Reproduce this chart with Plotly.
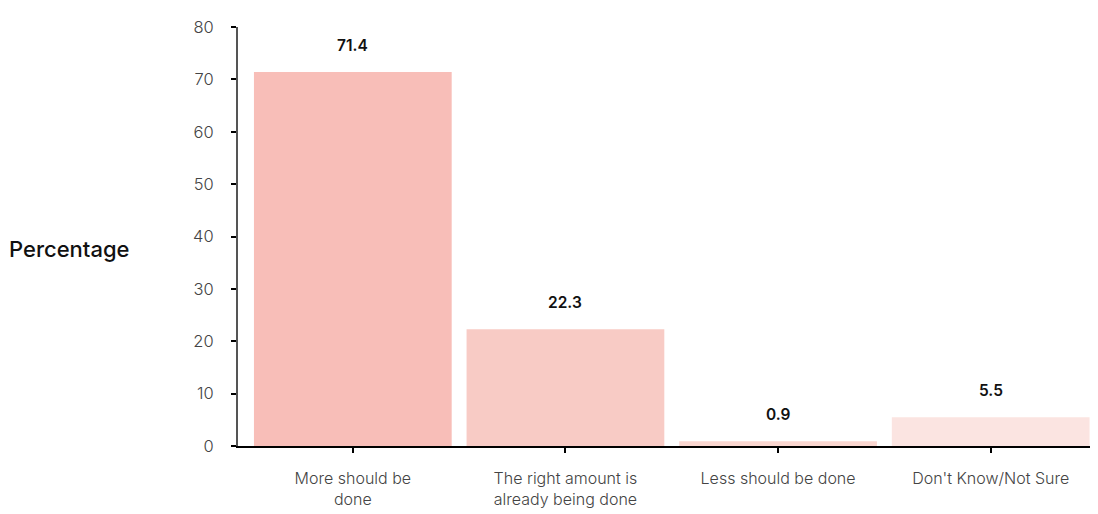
import plotly.graph_objects as go

categories = ["More should be<br>done", "The right amount is<br>already being done",
              "Less should be done", "Don't Know/Not Sure"]
values = [71.4, 22.3, 0.9, 5.5]
colors = ["#f8beb8", "#f8cbc5", "#fad6d0", "#fbe4e1"]
y_ticks = [0, 10, 20, 30, 40, 50, 60, 70, 80]

FONT = "Inter, Lato, sans-serif"

fig = go.Figure()
fig.add_trace(go.Bar(
    x=categories, y=values, marker=dict(color=colors, line=dict(width=0)),
    hoverinfo="skip", showlegend=False,
))

for c, v in zip(categories, values):
    fig.add_annotation(x=c, y=v, text=f"{v}", showarrow=False,
                       yanchor="bottom", yshift=15,
                       font=dict(family=FONT, size=15.5, color="#111111", weight=600))

fig.add_annotation(x=0, xref="paper", xanchor="left", xshift=-231,
                   y=0.47, yref="paper", text="Percentage", showarrow=False,
                   font=dict(family=FONT, size=22, color="#111111", weight=500))

fig.update_layout(
    width=1098, height=514,
    margin=dict(l=230, r=9, t=11, b=76),
    paper_bgcolor="white", plot_bgcolor="white",
    bargap=0.07,
    font=dict(family=FONT, size=15, color="#444444"),
    xaxis=dict(range=[-0.54, 3.5], showline=True, linecolor="black", linewidth=2,
               ticks="outside", ticklen=5, tickcolor="black", tickwidth=2,
               showgrid=False, ticklabelstandoff=12,
               tickfont=dict(size=16, color="#444444", weight=300)),
    yaxis=dict(range=[0, 80], tickvals=y_ticks, showline=True, linecolor="#555555",
               linewidth=2, ticks="outside", ticklen=5, tickcolor="black",
               tickwidth=2, showgrid=False, zeroline=False,
               tickfont=dict(size=16.5, color="#444444", weight=300), ticklabelstandoff=14),
)

fig.write_html("out.html")
